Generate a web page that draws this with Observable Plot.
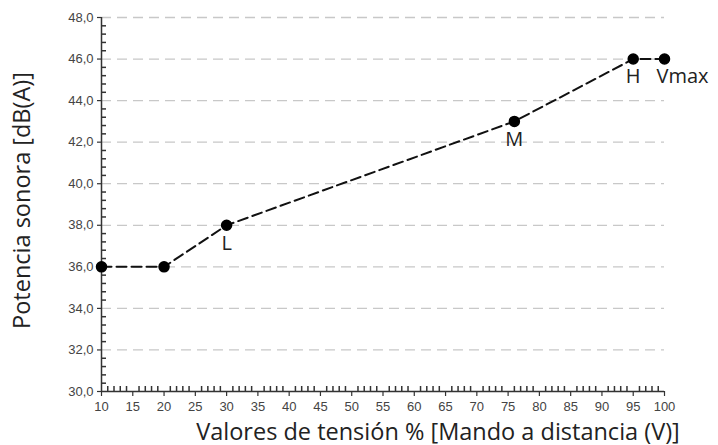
<!DOCTYPE html>
<html>
<head>
<meta charset="utf-8">
<script src="https://cdn.jsdelivr.net/npm/d3@7"></script>
<script src="https://cdn.jsdelivr.net/npm/@observablehq/plot@0.6"></script>
<style>
  html, body { margin: 0; padding: 0; background: #fff; }
  #chart svg { display: block; }
</style>
</head>
<body>
<div id="chart"></div>
<script>
const tension = [10, 20, 30, 76, 95, 100];
const potencia = [36, 36, 38, 43, 46, 46];
const pointLabels = ["", "", "L", "M", "H", "Vmax"];
const xTicks = [10, 15, 20, 25, 30, 35, 40, 45, 50, 55, 60, 65, 70, 75, 80, 85, 90, 95, 100];
const yTicks = [30, 32, 34, 36, 38, 40, 42, 44, 46, 48];
const xTitle = "Valores de tensión % [Mando a distancia (V)]";
const yTitle = "Potencia sonora [dB(A)]";

const data = tension.map((t, i) => ({x: t, y: potencia[i], label: pointLabels[i]}));
const xMinor = d3.range(10, 100.5, 1).filter(v => !xTicks.includes(v));
const yMinor = d3.range(30, 48.01, 0.4).map(v => +v.toFixed(1)).filter(v => !yTicks.includes(v));
const fmt = d => d.toFixed(1).replace(".", ",");
const titleFont = "'Open Sans', sans-serif";

const chart = Plot.plot({
  width: 718,
  height: 445,
  marginLeft: 101,
  marginRight: 54,
  marginTop: 17,
  marginBottom: 54,
  style: {fontFamily: "'Liberation Sans', Arial, sans-serif", fontSize: "13px", color: "#444", background: "#fff"},
  x: {domain: [10, 100]},
  y: {domain: [30, 48]},
  marks: [
    Plot.gridY(yTicks.filter(v => v > 30), {stroke: "#c8c8c8", strokeOpacity: 1, strokeWidth: 1.3, strokeDasharray: "10,6"}),
    Plot.ruleY([30], {stroke: "#333", strokeWidth: 1.5}),
    Plot.ruleX([10], {stroke: "#333", strokeWidth: 1.5}),
    Plot.axisX(xMinor, {tickSize: -5, text: null, stroke: "#333", strokeWidth: 1.5, label: null}),
    Plot.axisX(xTicks, {tickSize: 5, tickPadding: 5, stroke: "#333", strokeWidth: 1.2, fill: "#444", label: null}),
    Plot.axisY(yMinor, {tickSize: -5, text: null, stroke: "#333", strokeWidth: 1.5, label: null}),
    Plot.axisY(yTicks, {tickSize: 4, tickPadding: 4, stroke: "#333", strokeWidth: 1.2, fill: "#444", tickFormat: fmt, label: null}),
    Plot.line(data, {x: "x", y: "y", stroke: "#111", strokeWidth: 2, strokeDasharray: "10,5"}),
    Plot.dot(data, {x: "x", y: "y", r: 5, fill: "#000", stroke: "#000"}),
    Plot.text(data.filter(d => d.label && d.label !== "Vmax"), {x: "x", y: "y", text: "label", dy: 18, fontSize: 20, fill: "#222", fontFamily: titleFont}),
    Plot.text(data.filter(d => d.label === "Vmax"), {x: "x", y: "y", text: "label", dy: 18, dx: -8, textAnchor: "start", fontSize: 20, fill: "#222", fontFamily: titleFont}),
    Plot.text([xTitle], {frameAnchor: "bottom", lineAnchor: "bottom", textAnchor: "middle", dy: 48, dx: 55, fontSize: 23.5, fill: "#222", fontFamily: titleFont}),
    Plot.text([yTitle], {frameAnchor: "left", textAnchor: "middle", lineAnchor: "middle", dx: -79, dy: -4, rotate: -90, fontSize: 23.5, fill: "#222", fontFamily: titleFont})
  ]
});
document.getElementById("chart").appendChild(chart);
</script>
</body>
</html>
